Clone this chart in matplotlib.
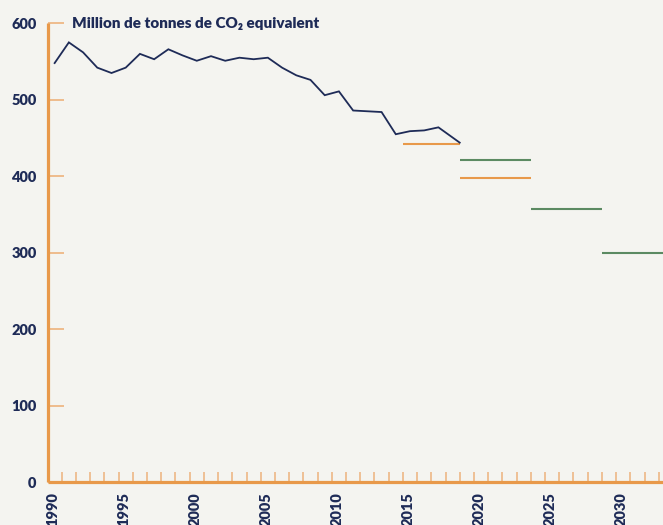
import numpy as np
import matplotlib.pyplot as plt

# --- Data: emissions (Mt CO2e) and carbon budgets ---

years = list(range(1990, 2018)) + [2018.5]
emissions = [548, 575, 562, 542, 535, 542, 560, 553, 566, 558,
             551, 557, 551, 555, 553, 555, 542, 532, 526, 506,
             511, 486, 485, 484, 455, 459, 460, 464, 444]

# first strategy budgets (orange) and revised budgets (green)
budget1_start = [2015, 2019]
budget1_end = [2018, 2023]
budget1_value = [442, 398]

budget2_start = [2019, 2024, 2029]
budget2_end = [2023, 2028, 2033]
budget2_value = [421, 357, 300]

label_years = [1990, 1995, 2000, 2005, 2010, 2015, 2020, 2025, 2030]
y_ticks = [0, 100, 200, 300, 400, 500, 600]
title = "Million de tonnes de CO\u2082 equivalent"

# --- Style ---

bg = '#F4F4F0'
navy = '#1E2B57'
orange = '#E8994A'
light_orange = '#EDB27C'
green = '#5B8A62'

plt.rcParams['font.family'] = ['Lato', 'DejaVu Sans']

fig = plt.figure(figsize=(6.63, 5.25), dpi=100, facecolor=bg)
ax = fig.add_axes([0.0717, 0.0810, 0.9283, 0.8747])
ax.set_facecolor(bg)

x = np.array(years) + 0.5
ax.plot(x, emissions, color=navy, lw=1.3, solid_joinstyle='miter', zorder=3)

ax.hlines(budget1_value, budget1_start, np.array(budget1_end) + 1,
          color=orange, lw=1.5, zorder=2)
ax.hlines(budget2_value, budget2_start, np.array(budget2_end) + 1,
          color=green, lw=1.5, zorder=2)

ax.set_xlim(1990, 2033.3)
ax.set_ylim(0, 600)

for s in ['top', 'right']:
    ax.spines[s].set_visible(False)
for s in ['left', 'bottom']:
    ax.spines[s].set_color(orange)
    ax.spines[s].set_linewidth(2.3)
    ax.spines[s].set_capstyle('butt')

# y axis
ax.set_yticks(y_ticks)
ax.set_yticklabels([str(v) for v in y_ticks])
ax.tick_params(axis='y', direction='in', length=11.5, width=1.2,
               color=light_orange, pad=8, labelsize=10.5, labelcolor=navy)
for lab in ax.get_yticklabels():
    lab.set_fontweight('heavy')

# x axis: yearly minor ticks, labels every five years
ax.set_xticks(np.array(label_years) + 0.35)
ax.set_xticklabels([str(v) for v in label_years], rotation=90,
                   fontweight='heavy', va='top', ha='center')
ax.tick_params(axis='x', length=0, pad=7, labelsize=10.5, labelcolor=navy)
ax.set_xticks(range(1991, 2034), minor=True)
ax.tick_params(axis='x', which='minor', direction='in', length=7.5,
               width=1.1, color=light_orange)

ax.text(1991.7, 600, title, fontsize=11, fontweight='heavy', color=navy,
        va='center', ha='left')

fig.savefig('out.png', dpi=100, facecolor=bg)
